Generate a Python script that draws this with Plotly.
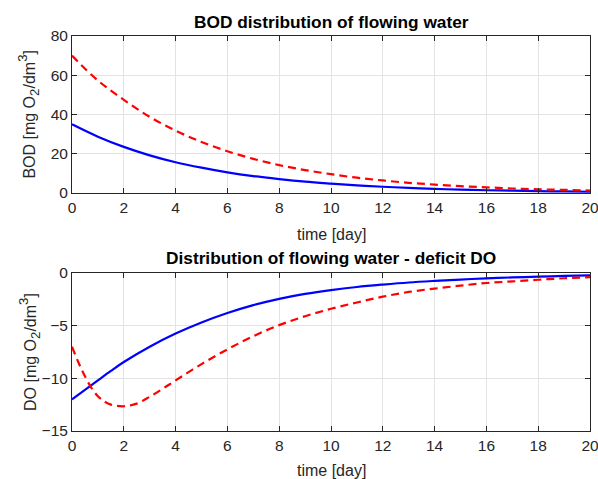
import plotly.graph_objects as go
from plotly.subplots import make_subplots

# BOD curves, sampled once per day
t_bod = [0, 1, 2, 3, 4, 5, 6, 7, 8, 9, 10, 11, 12, 13, 14, 15, 16, 17, 18, 19, 20]
bod_blue = [35, 28.7, 23.5, 19.2, 15.7, 12.9, 10.5, 8.6, 7.1, 5.8, 4.8, 3.9,
            3.2, 2.6, 2.1, 1.7, 1.4, 1.2, 0.95, 0.8, 0.64]
bod_red = [70, 57.3, 47.5, 38.8, 31.8, 26.0, 21.3, 17.4, 14.2, 11.7, 9.6, 7.8,
           6.4, 5.2, 4.3, 3.5, 2.9, 2.3, 1.9, 1.6, 1.25]

# Oxygen deficit curves
t_do_blue = [0, 0.5, 1, 1.5, 2, 3, 4, 5, 6, 7, 8, 9, 10, 11, 12, 13, 14, 15, 16, 17, 18, 19, 20]
do_blue = [-12.0, -11.1, -10.2, -9.3, -8.45, -7.0, -5.75, -4.7, -3.8, -3.05, -2.45,
           -1.98, -1.62, -1.33, -1.1, -0.9, -0.75, -0.62, -0.51, -0.42, -0.35, -0.28, -0.22]
t_do_red = [0, 0.25, 0.5, 0.75, 1, 1.25, 1.5, 2, 2.5, 3, 3.5, 4, 5, 6, 7, 8, 9, 10,
            11, 12, 13, 14, 15, 16, 17, 18, 19, 20]
do_red = [-7.0, -8.5, -9.8, -10.9, -11.7, -12.2, -12.5, -12.65, -12.4, -11.75, -11.0,
          -10.2, -8.65, -7.25, -6.0, -4.95, -4.1, -3.4, -2.8, -2.25, -1.8, -1.48,
          -1.2, -0.95, -0.8, -0.64, -0.5, -0.4]

x_ticks = list(range(0, 21, 2))
bod_ticks = [0, 20, 40, 60, 80]
do_ticks = [-15, -10, -5, 0]

BLUE = "#0000ff"
RED = "#ff0000"
AXIS = "#262626"
FONT = "Liberation Sans, Arial, sans-serif"

fig = make_subplots(rows=2, cols=1, vertical_spacing=0.2)

solid = dict(color=BLUE, width=2.2, shape="spline", smoothing=1.0)
dashed = dict(color=RED, width=2.2, dash="8px,5px", shape="spline", smoothing=1.0)

fig.add_trace(go.Scatter(x=t_bod, y=bod_blue, mode="lines", line=solid), row=1, col=1)
fig.add_trace(go.Scatter(x=t_bod, y=bod_red, mode="lines", line=dashed), row=1, col=1)
fig.add_trace(go.Scatter(x=t_do_blue, y=do_blue, mode="lines", line=solid), row=2, col=1)
fig.add_trace(go.Scatter(x=t_do_red, y=do_red, mode="lines", line=dashed), row=2, col=1)

axis_style = dict(
    showline=True, linecolor=AXIS, linewidth=1, mirror="ticks",
    ticks="inside", ticklen=5, tickcolor=AXIS, tickwidth=1,
    showgrid=True, gridcolor="#e3e3e3", gridwidth=1, zeroline=False,
    tickfont=dict(family=FONT, size=15.5, color=AXIS), automargin=False,
    ticklabeloverflow="allow",
)

fig.update_xaxes(range=[0, 20], tickvals=x_ticks, **axis_style)
fig.update_yaxes(**axis_style)
fig.update_yaxes(range=[0, 80], tickvals=bod_ticks, row=1, col=1)
fig.update_yaxes(range=[-15, 0], tickvals=do_ticks, row=2, col=1)

fig.update_layout(
    width=598, height=479,
    margin=dict(l=72, r=8, t=36, b=48),
    plot_bgcolor="white", paper_bgcolor="white",
    showlegend=False,
    xaxis=dict(domain=[0, 1]),
    yaxis=dict(domain=[0.6025, 1]),
    yaxis2=dict(domain=[0, 0.4]),
)

title_font = dict(family=FONT, size=17.3, color="#000000")
label_font = dict(family=FONT, size=16, color=AXIS)

# enlarged sub/superscripts, close to full text size
sub2 = '<span style="font-size:19px"><sub>2</sub></span>'
sup3 = '<span style="font-size:19px"><sup>3</sup></span>'

annotations = [
    dict(text="<b>BOD distribution of flowing water</b>", x=0.5, y=1.0,
         xref="paper", yref="paper", xanchor="center", yanchor="middle",
         yshift=14, showarrow=False, font=title_font),
    dict(text="<b>Distribution of flowing water - deficit DO</b>", x=0.5, y=0.4,
         xref="paper", yref="paper", xanchor="center", yanchor="middle",
         yshift=15, showarrow=False, font=title_font),
    dict(text="time [day]", x=0.5, y=0.6025, xref="paper", yref="paper",
         xanchor="center", yanchor="middle", yshift=-41, showarrow=False, font=label_font),
    dict(text="time [day]", x=0.5, y=0.0, xref="paper", yref="paper",
         xanchor="center", yanchor="middle", yshift=-39, showarrow=False, font=label_font),
    dict(text="BOD [mg O" + sub2 + "/dm" + sup3 + "]", x=-0.083, y=0.801,
         xref="paper", yref="paper", xanchor="center", yanchor="middle",
         textangle=-90, showarrow=False, font=label_font),
    dict(text="DO [mg O" + sub2 + "/dm" + sup3 + "]", x=-0.083, y=0.2,
         xref="paper", yref="paper", xanchor="center", yanchor="middle",
         textangle=-90, showarrow=False, font=label_font),
]
fig.update_layout(annotations=annotations)

fig.write_html("out.html")
